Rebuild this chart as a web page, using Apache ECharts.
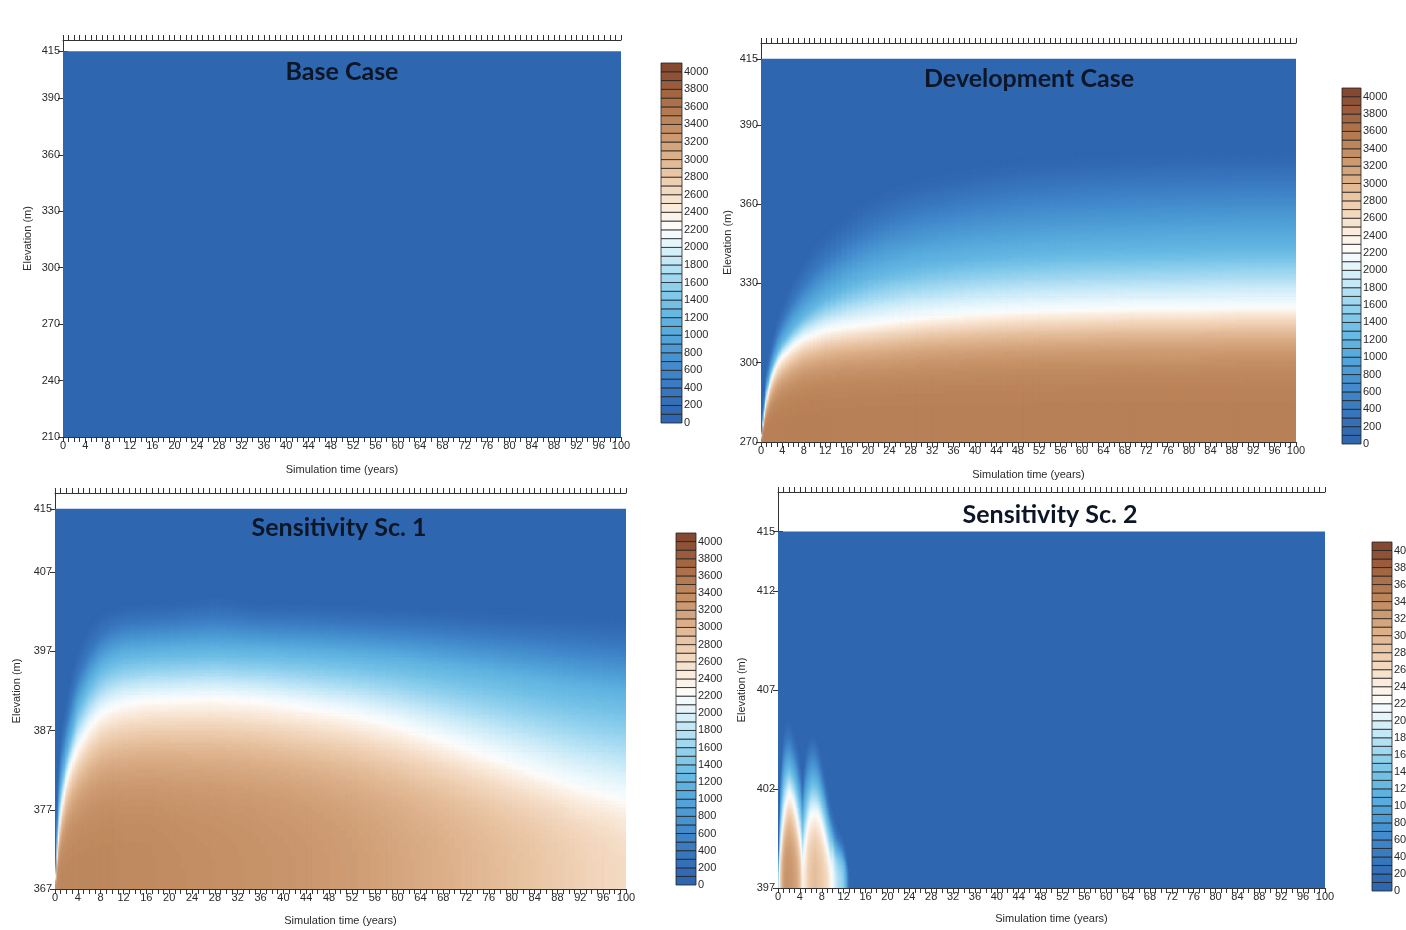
<!DOCTYPE html>
<html>
<head>
<meta charset="utf-8">
<script src="https://cdn.jsdelivr.net/npm/echarts@6/dist/echarts.min.js"></script>
<style>
html, body { margin: 0; background: #fff; }
#chart { width: 1406px; height: 930px; }
</style>
</head>
<body>
<div id="chart"></div>
<script>
// tick labels
const elevTicks1 = [210, 240, 270, 300, 330, 360, 390, 415];
const elevTicks2 = [270, 300, 330, 360, 390, 415];
const elevTicks3 = [367, 377, 387, 397, 407, 415];
const elevTicks4 = [397, 402, 407, 412, 415];
const cbarTicks = [0, 200, 400, 600, 800, 1000, 1200, 1400, 1600, 1800, 2000, 2200, 2400, 2600, 2800, 3000, 3200, 3400, 3600, 3800, 4000];
const cbarTicks4 = [0, 20, 40, 60, 80, 100, 120, 140, 160, 180, 200, 220, 240, 260, 280, 300, 320, 340, 360, 380, 400];
const cbarBands = [0, 100, 200, 300, 400, 500, 600, 700, 800, 900, 1000, 1100, 1200, 1300, 1400, 1500, 1600, 1700, 1800, 1900, 2000,
  2100, 2200, 2300, 2400, 2500, 2600, 2700, 2800, 2900, 3000, 3100, 3200, 3300, 3400, 3500, 3600, 3700, 3800, 3900, 4000];
const cbarBands4 = [0, 10, 20, 30, 40, 50, 60, 70, 80, 90, 100, 110, 120, 130, 140, 150, 160, 170, 180, 190, 200,
  210, 220, 230, 240, 250, 260, 270, 280, 290, 300, 310, 320, 330, 340, 350, 360, 370, 380, 390, 400];

// base case: nothing reaches the section
const times1 = [0, 100];
const bottom1 = [0, 0];

// development case: value at the bottom and elevation of the 2200 / 1200 / 400 / 0 contours
const times2 = [0, 0.5, 1, 2, 3, 4, 6, 8, 10, 12, 16, 20, 24, 30, 40, 50, 60, 70, 80, 90, 100];
const bottom2 = [3400, 3500, 3500, 3500, 3500, 3500, 3500, 3500, 3500, 3500, 3500, 3500, 3500, 3500, 3500, 3500, 3500, 3500, 3500, 3500, 3500];
const dev2200 = [270.5, 279, 286, 294.5, 299.5, 302.5, 306.5, 309.5, 311, 312.5, 314, 315, 316, 317.5, 319, 320, 320.5, 321, 321, 321.5, 321.5];
const dev1200 = [271, 282, 290, 298.5, 304, 308, 313.5, 318, 321.5, 324.5, 329, 332.5, 335, 337.5, 340, 341.5, 342.5, 343, 343.5, 344, 344];
const dev400 = [271.5, 285, 295, 304, 311, 316, 324, 330, 335, 339, 346, 351, 355, 359, 363, 365.5, 367, 368, 368.5, 369, 369];
const dev0 = [272, 288, 300, 310, 318, 324, 334, 341, 347, 351, 358, 364, 368, 372, 376, 379, 380, 381, 382, 382, 382];

// sensitivity scenario 1
const times3 = [0, 0.5, 1, 2, 3, 4, 6, 8, 10, 12, 16, 20, 28, 36, 44, 52, 60, 68, 76, 84, 92, 100];
const bottom3 = [3300, 3400, 3420, 3420, 3420, 3420, 3420, 3420, 3420, 3400, 3400, 3380, 3350, 3320, 3280, 3220, 3140, 3050, 2950, 2850, 2730, 2620];
const s1c2200 = [367.3, 372.5, 376.6, 380.8, 383.2, 385, 387.5, 389.2, 390, 390.5, 391, 391.1, 391.3, 390.9, 390.1, 389.2, 387.8, 386, 384, 382, 380, 378.5];
const s1c1200 = [367.6, 376, 380, 384, 387, 390, 393, 395, 396, 396.5, 396.8, 397, 397.2, 397, 396.7, 396.3, 395.8, 395, 394.2, 393.3, 392.3, 391.5];
const s1c400 = [368, 379, 384, 388, 391.5, 394, 397, 399, 400, 400.5, 400.8, 401, 401.5, 401, 400.8, 400.5, 400.2, 399.8, 399.3, 398.8, 398.3, 397.8];
const s1c0 = [368.5, 382, 388, 392, 395.5, 398, 401, 402.5, 403, 403.3, 403.5, 403.5, 404.5, 403.5, 403.5, 403.3, 403, 402.8, 402.5, 402.3, 402, 401.8];

// sensitivity scenario 2 (colour scale 0-400)
const times4 = [0, 0.5, 1, 1.5, 2, 2.5, 3, 3.5, 4, 4.5, 5, 5.5, 6, 6.5, 7, 7.5, 8, 8.5, 9, 9.5, 10, 10.5, 11, 11.5, 12, 12.5, 13, 14, 100];
const bottom4 = [150, 280, 320, 330, 330, 325, 320, 310, 290, 235, 250, 275, 285, 290, 290, 285, 280, 270, 260, 240, 215, 190, 175, 165, 150, 100, 20, 0, 0];
const s2c220 = [397, 399, 400.5, 401.3, 401.8, 401.6, 401.2, 400.5, 399.6, 398.3, 399.2, 400.2, 400.7, 400.8, 400.8, 400.6, 400.2, 399.6, 399, 398.3, 397.5, 397, 397, 397, 397, 397, 397, 397, 397];
const s2c120 = [397.5, 401, 402.5, 403, 403.2, 403, 402.7, 402.2, 401.5, 400.5, 401.5, 402, 402.4, 402.5, 402.4, 402.1, 401.7, 401.2, 400.6, 400, 399.5, 399, 398.8, 398.6, 398.3, 397.8, 397.2, 397, 397];
const s2c40 = [398, 402.5, 404, 404.5, 404.6, 404.4, 404, 403.5, 402.8, 401.8, 403, 403.6, 403.9, 404, 403.8, 403.4, 402.8, 402.2, 401.5, 400.8, 400.3, 399.8, 399.5, 399.3, 399, 398.4, 397.5, 397, 397];
const s2c0 = [398.5, 403.5, 405.2, 405.8, 405.8, 405.5, 405.1, 404.6, 403.8, 402.8, 404, 404.7, 405, 405, 404.8, 404.4, 403.8, 403.2, 402.5, 401.8, 401.2, 400.6, 400.2, 400, 399.7, 399, 398, 397, 397];

const cmap = ['#2f66b0', '#3169b2', '#346fb7', '#3775bc', '#3b7cc1', '#3f83c7', '#438bcc', '#4793d0', '#4c9bd4', '#52a3d9',
  '#58abdc', '#5fb2e0', '#67b9e3', '#72c0e6', '#80c8ea', '#8fd0ed', '#a0d8f1', '#b2e0f4', '#c4e8f7', '#d5eff9',
  '#e5f5fb', '#f2fafd', '#fdfbf8', '#fcf3ea', '#faebdc', '#f7e2ce', '#f3d8c0', '#eecfb2', '#e9c5a4', '#e3ba96',
  '#dcaf89', '#d4a47c', '#cc9970', '#c48f65', '#bc855b', '#b47b52', '#ac714a', '#a36643', '#9a5c3d', '#905237', '#854831'];

function lerp(ts, arr, t) {
  if (t <= ts[0]) return arr[0];
  for (let i = 1; i < ts.length; i++) {
    if (t <= ts[i]) {
      const f = (t - ts[i - 1]) / (ts[i] - ts[i - 1]);
      return arr[i - 1] + f * (arr[i] - arr[i - 1]);
    }
  }
  return arr[arr.length - 1];
}

// value along one column, bottom segment curved so the plume stays dark until its edge
function profile(pts, e, p) {
  if (e <= pts[0][0]) return pts[0][1];
  for (let i = 1; i < pts.length; i++) {
    if (e < pts[i][0]) {
      const s = (e - pts[i - 1][0]) / (pts[i][0] - pts[i - 1][0]);
      const w = i === 1 ? Math.pow(s, p) : s;
      return pts[i - 1][1] + (pts[i][1] - pts[i - 1][1]) * w;
    }
  }
  return pts[pts.length - 1][1];
}

function edges(steps) {
  const out = [0];
  steps.forEach(([to, dt]) => {
    let t = out[out.length - 1];
    while (t < to - 1e-9) { t = Math.min(to, t + dt); out.push(+t.toFixed(4)); }
  });
  return out;
}

function buildField(o) {
  // first cell: the background value under the whole section
  const cells = [[0, 100, o.e0, o.eTop, 0]];
  const nRows = Math.round((o.eTop - o.e0) / o.dE);
  for (let c = 0; c < o.tEdges.length - 1; c++) {
    const ta = o.tEdges[c], tb = o.tEdges[c + 1], tm = (ta + tb) / 2;
    const pts = [[o.e0, lerp(o.times, o.bottom, tm)]];
    o.contours.forEach(k => {
      const e = lerp(o.times, k.e, tm), last = pts[pts.length - 1];
      if (k.v < last[1] && e > last[0]) pts.push([e, k.v]);
    });
    let runStart = o.e0, runVal = null;
    for (let j = 0; j < nRows; j++) {
      const e = o.e0 + j * o.dE;
      const v = Math.round(profile(pts, e + o.dE / 2, o.p) / o.round) * o.round;
      if (runVal === null) { runVal = v; runStart = e; }
      else if (v !== runVal) { if (runVal > 0) cells.push([ta, tb, runStart, e, runVal]); runVal = v; runStart = e; }
    }
    if (runVal > 0) cells.push([ta, tb, runStart, o.eTop, runVal]);
  }
  return cells;
}

const field1 = buildField({ times: times1, bottom: bottom1, contours: [], e0: 210, eTop: 415, dE: 5,
  tEdges: edges([[100, 4]]), p: 1, round: 10 });
const field2 = buildField({ times: times2, bottom: bottom2,
  contours: [{ v: 2200, e: dev2200 }, { v: 1200, e: dev1200 }, { v: 400, e: dev400 }, { v: 0, e: dev0 }],
  e0: 270, eTop: 415, dE: 0.8, tEdges: edges([[12, 0.25], [100, 1]]), p: 4, round: 20 });
const field3 = buildField({ times: times3, bottom: bottom3,
  contours: [{ v: 2200, e: s1c2200 }, { v: 1200, e: s1c1200 }, { v: 400, e: s1c400 }, { v: 0, e: s1c0 }],
  e0: 367, eTop: 415, dE: 0.3, tEdges: edges([[12, 0.25], [100, 1]]), p: 3.5, round: 20 });
const field4 = buildField({ times: times4, bottom: bottom4,
  contours: [{ v: 220, e: s2c220 }, { v: 120, e: s2c120 }, { v: 40, e: s2c40 }, { v: 0, e: s2c0 }],
  e0: 397, eTop: 415, dE: 0.12, tEdges: edges([[14, 0.2], [100, 86]]), p: 3, round: 2 });

const bandData = (bands, step) => bands.map(b => [0, 1, b, b + step, b + step / 2]);

const panels = [
  { title: 'Base Case', tx: 342, ty: 72, grid: { left: 63, top: 40, width: 558, height: 397 }, ymin: 210, ymax: 421,
    ticks: elevTicks1, field: field1, cb: { left: 661, top: 63, width: 21, height: 360 }, cbMax: 4100,
    cbTicks: cbarTicks, bands: bandData(cbarBands, 100), yGap: 30, xGap: 27 },
  { title: 'Development Case', tx: 1029, ty: 79, grid: { left: 761, top: 43, width: 535, height: 399 }, ymin: 270, ymax: 421,
    ticks: elevTicks2, field: field2, cb: { left: 1342, top: 88, width: 19, height: 356 }, cbMax: 4100,
    cbTicks: cbarTicks, bands: bandData(cbarBands, 100), yGap: 28, xGap: 27 },
  { title: 'Sensitivity Sc. 1', tx: 339, ty: 528, grid: { left: 55, top: 493, width: 571, height: 396 }, ymin: 367, ymax: 417,
    ticks: elevTicks3, field: field3, cb: { left: 676, top: 533, width: 20, height: 352 }, cbMax: 4100,
    cbTicks: cbarTicks, bands: bandData(cbarBands, 100), yGap: 33, xGap: 26 },
  { title: 'Sensitivity Sc. 2', tx: 1050, ty: 515, grid: { left: 778, top: 492, width: 547, height: 396 }, ymin: 397, ymax: 417,
    ticks: elevTicks4, field: field4, cb: { left: 1372, top: 542, width: 20, height: 349 }, cbMax: 410,
    cbTicks: cbarTicks4, bands: bandData(cbarBands4, 10), yGap: 31, xGap: 25 }
];

const font = '"Liberation Sans", Arial, sans-serif';
const ink = '#2a2a2a';
const lineStyle = { color: '#333', width: 1 };
const plain = v => String(v);

function renderCell(params, api) {
  const a = api.coord([api.value(0), api.value(3)]);
  const b = api.coord([api.value(1), api.value(2)]);
  return {
    type: 'rect',
    shape: { x: a[0], y: a[1], width: b[0] - a[0] + 0.7, height: b[1] - a[1] + 0.7 },
    style: { fill: api.visual('color') }
  };
}

function renderBand(params, api) {
  const a = api.coord([api.value(0), api.value(3)]);
  const b = api.coord([api.value(1), api.value(2)]);
  return {
    type: 'rect',
    shape: { x: a[0], y: a[1], width: b[0] - a[0], height: b[1] - a[1] },
    style: { fill: api.visual('color'), stroke: '#222', lineWidth: 0.8 }
  };
}

const grid = [], xAxis = [], yAxis = [], series = [];
panels.forEach((p, i) => {
  grid.push(Object.assign({ outerBoundsMode: 'none', containLabel: false }, p.grid),
            Object.assign({ outerBoundsMode: 'none', containLabel: false }, p.cb));
  const g = 2 * i, gc = 2 * i + 1;
  xAxis.push({
    gridIndex: g, type: 'value', min: 0, max: 100, interval: 4, position: 'bottom',
    axisLine: { lineStyle }, axisTick: { length: 5, lineStyle }, splitLine: { show: false },
    minorTick: { show: true, splitNumber: 4, length: 5, lineStyle }, minorSplitLine: { show: false },
    axisLabel: { fontFamily: font, fontSize: 11, color: ink, margin: 3, formatter: plain },
    name: 'Simulation time (years)', nameLocation: 'middle', nameGap: p.xGap,
    nameTextStyle: { fontFamily: font, fontSize: 11, color: ink }
  }, {
    gridIndex: g, type: 'value', min: 0, max: 100, interval: 1, position: 'top',
    axisLine: { lineStyle }, axisTick: { length: 5, lineStyle }, splitLine: { show: false },
    axisLabel: { show: false }
  }, {
    gridIndex: gc, type: 'value', min: 0, max: 1, show: false
  });
  yAxis.push({
    gridIndex: g, type: 'value', min: p.ymin, max: p.ymax, position: 'left',
    axisLine: { show: true, lineStyle }, splitLine: { show: false },
    axisTick: { show: true, length: 5, lineStyle, customValues: p.ticks },
    axisLabel: { fontFamily: font, fontSize: 11, color: ink, margin: 3, customValues: p.ticks, formatter: plain },
    name: 'Elevation (m)', nameLocation: 'middle', nameGap: p.yGap,
    nameTextStyle: { fontFamily: font, fontSize: 11, color: ink }
  }, {
    gridIndex: g, type: 'value', min: p.ymin, max: p.ymax, position: 'right',
    axisLine: { show: true, lineStyle }, splitLine: { show: false },
    axisTick: { show: true, length: 5, lineStyle, customValues: p.ticks },
    axisLabel: { show: false }
  }, {
    gridIndex: gc, type: 'value', min: 0, max: p.cbMax, position: 'right',
    axisLine: { show: false }, axisTick: { show: false }, splitLine: { show: false },
    axisLabel: { fontFamily: font, fontSize: 11, color: ink, margin: 2, customValues: p.cbTicks, formatter: plain }
  });
  series.push({
    type: 'custom', coordinateSystem: 'cartesian2d', xAxisIndex: 3 * i, yAxisIndex: 3 * i,
    data: p.field, renderItem: renderCell, clip: true, silent: true, animation: false,
    progressive: 0, encode: { x: [0, 1], y: [2, 3] }
  }, {
    type: 'custom', coordinateSystem: 'cartesian2d', xAxisIndex: 3 * i + 2, yAxisIndex: 3 * i + 2,
    data: p.bands, renderItem: renderBand, silent: true, animation: false,
    progressive: 0, encode: { x: [0, 1], y: [2, 3] }
  });
});

const chart = echarts.init(document.getElementById('chart'), null, { renderer: 'canvas' });
chart.setOption({
  backgroundColor: '#fff',
  animation: false,
  grid, xAxis, yAxis, series,
  visualMap: [
    { type: 'continuous', show: false, min: 50, max: 4050, dimension: 4, seriesIndex: [0, 1, 2, 3, 4, 5], inRange: { color: cmap } },
    { type: 'continuous', show: false, min: 5, max: 405, dimension: 4, seriesIndex: [6, 7], inRange: { color: cmap } }
  ],
  graphic: panels.map(p => ({
    type: 'text', x: p.tx, y: p.ty, z: 100, silent: true,
    style: { text: p.title, font: 'bold 25px Lato, "Open Sans", sans-serif', fill: '#0d1626', align: 'center', verticalAlign: 'middle' }
  }))
});
</script>
</body>
</html>
